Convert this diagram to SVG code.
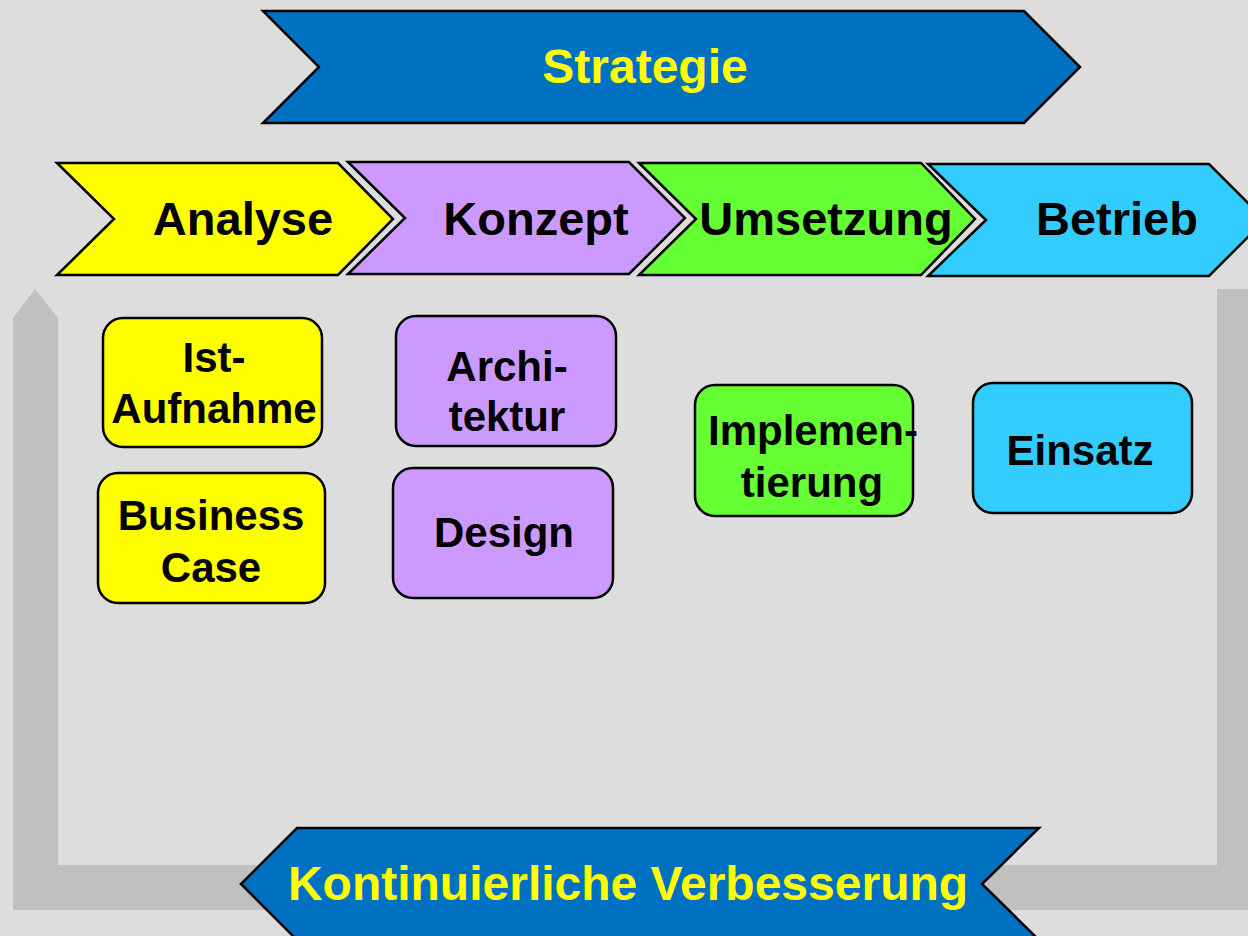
<svg xmlns="http://www.w3.org/2000/svg" width="1248" height="936" viewBox="0 0 1248 936">
<style>
.sh{stroke:#000;stroke-width:2.5;stroke-linejoin:miter}
.box{stroke:#000;stroke-width:2.5}
.t{font-family:"Liberation Sans",Arial,sans-serif;font-weight:bold;text-anchor:middle;fill:#000}
.big{font-size:47px}
.ban{font-size:48px}
.mid{font-size:42px}
.y{fill:#ffff00}
</style>
<rect width="1248" height="936" fill="#dddddd"/>
<g id="loop" fill="#c0c0c0">
<polygon points="13,910 13,318 35,289 58,318 58,865 1217,865 1217,289 1260,289 1260,910"/>
</g>
<g id="strategie">
<polygon class="sh" fill="#0070c0" points="263,11 1024,11 1080,67 1024,123 263,123 319,67"/>
<text class="t ban y" x="645" y="83">Strategie</text>
</g>
<g id="analyse">
<polygon class="sh" fill="#ffff00" points="57,163 338,163 393,219 338,275 57,275 114,219"/>
<text class="t big" x="243" y="235">Analyse</text>
</g>
<g id="konzept">
<polygon class="sh" fill="#cc99ff" points="348,162 629,162 685,218 629,274 348,274 405,218"/>
<text class="t big" x="536" y="235">Konzept</text>
</g>
<g id="umsetzung">
<polygon class="sh" fill="#66ff33" points="639,163 921,163 975,219 921,275 639,275 696,219"/>
<text class="t big" x="826" y="235">Umsetzung</text>
</g>
<g id="betrieb">
<polygon class="sh" fill="#33ccff" points="928,164 1209,164 1265,220 1209,276 928,276 986,220"/>
<text class="t big" x="1117" y="235">Betrieb</text>
</g>
<g id="ist-aufnahme">
<rect class="box" fill="#ffff00" x="103" y="318" width="219" height="129" rx="20"/>
<text class="t mid" x="214" y="372">Ist-</text>
<text class="t mid" x="214" y="423">Aufnahme</text>
</g>
<g id="business-case">
<rect class="box" fill="#ffff00" x="98" y="473" width="227" height="130" rx="20"/>
<text class="t mid" x="211" y="530">Business</text>
<text class="t mid" x="211" y="582">Case</text>
</g>
<g id="architektur">
<rect class="box" fill="#cc99ff" x="396" y="316" width="220" height="130" rx="20"/>
<text class="t mid" x="507" y="381">Archi-</text>
<text class="t mid" x="507" y="431">tektur</text>
</g>
<g id="design">
<rect class="box" fill="#cc99ff" x="393" y="468" width="220" height="130" rx="20"/>
<text class="t mid" x="504" y="547">Design</text>
</g>
<g id="implementierung">
<rect class="box" fill="#66ff33" x="695" y="385" width="218" height="131" rx="20"/>
<text class="t mid" x="813" y="445">Implemen-</text>
<text class="t mid" x="812" y="497">tierung</text>
</g>
<g id="einsatz">
<rect class="box" fill="#33ccff" x="973" y="383" width="219" height="130" rx="20"/>
<text class="t mid" x="1080" y="465">Einsatz</text>
</g>
<g id="verbesserung">
<polygon class="sh" fill="#0070c0" points="241,884 297,828 1039,828 982,884 1039,940 297,940"/>
<text class="t ban y" x="628" y="900">Kontinuierliche Verbesserung</text>
</g>
<g id="connectors"/>
</svg>
